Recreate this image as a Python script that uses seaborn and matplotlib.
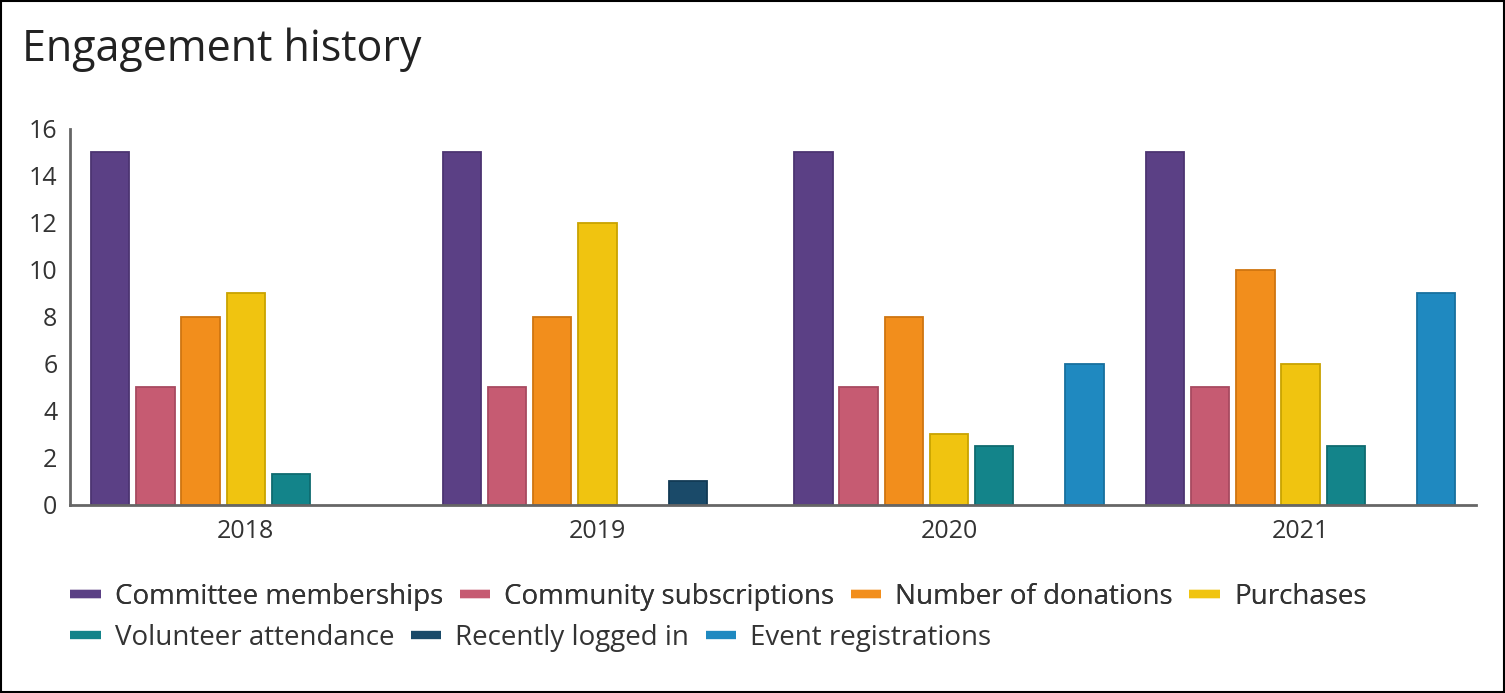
import pandas as pd
import matplotlib
matplotlib.use("Agg")
import matplotlib.pyplot as plt
import seaborn as sns
from matplotlib.lines import Line2D

years = ["2018", "2019", "2020", "2021"]
series = [
    "Committee memberships",
    "Community subscriptions",
    "Number of donations",
    "Purchases",
    "Volunteer attendance",
    "Recently logged in",
    "Event registrations",
]
committee = [15, 15, 15, 15]
community = [5, 5, 5, 5]
donations = [8, 8, 8, 10]
purchases = [9, 12, 3, 6]
volunteer = [1.3, 0, 2.5, 2.5]
logged_in = [0, 1, 0, 0]
events = [0, 0, 6, 9]

colors = ["#5B4085", "#C65B72", "#F28E1C", "#F0C410", "#13848A", "#1A4A69", "#1F89C0"]
edges = ["#4C3472", "#A84A60", "#CF7510", "#C9A300", "#0E6B70", "#123A55", "#17709E"]

values = [committee, community, donations, purchases, volunteer, logged_in, events]
rows = []
for name, vals in zip(series, values):
    for y, v in zip(years, vals):
        if v > 0:
            rows.append({"year": y, "series": name, "value": v})
df = pd.DataFrame(rows)

sns.set_style("white")
plt.rcParams["font.family"] = ["Open Sans", "DejaVu Sans"]

fig = plt.figure(figsize=(15.05, 6.93), dpi=100)
ax = fig.add_axes([0.0465, 0.2713, 0.9345, 0.5426])

sns.barplot(data=df, x="year", y="value", hue="series", order=years, hue_order=series,
            palette=colors, saturation=1, width=0.9, gap=0.15, legend=False, ax=ax)

present = [s for s in series if s in set(df["series"])]
for cont, name in zip(ax.containers, present):
    i = series.index(name)
    for p in cont:
        p.set_edgecolor(edges[i])
        p.set_linewidth(1.3)

ax.set_xlim(-0.5, 3.5)
ax.set_ylim(0, 16)
ax.set_yticks(range(0, 17, 2))
ax.set_xlabel("")
ax.set_ylabel("")
sns.despine(ax=ax)
for s in ["left", "bottom"]:
    ax.spines[s].set_color("#666666")
    ax.spines[s].set_linewidth(2)
ax.tick_params(axis="both", length=0, labelsize=18, colors="#333333")
ax.tick_params(axis="y", pad=9)
ax.tick_params(axis="x", pad=10)

fig.text(0.0146, 0.912, "Engagement history", fontsize=31, color="#222222", va="baseline")

handles = [Line2D([0], [0], color=c, lw=6, solid_capstyle="butt") for c in colors]
leg_kw = dict(frameon=False, fontsize=20, handlelength=1.1, handletextpad=0.5,
              columnspacing=0.6, labelcolor="#333333", loc="center left")
leg1 = fig.legend(handles[:4], series[:4], ncol=4, bbox_to_anchor=(0.030, 0.139), **leg_kw)
fig.add_artist(leg1)
fig.legend(handles[4:], series[4:], ncol=3, bbox_to_anchor=(0.030, 0.08), **leg_kw)

fig.patches.append(plt.Rectangle((0.0007, 0.0015), 0.9986, 0.997, transform=fig.transFigure,
                                 fill=False, edgecolor="black", linewidth=1.5))

fig.savefig("out.png", dpi=100, facecolor="white")
